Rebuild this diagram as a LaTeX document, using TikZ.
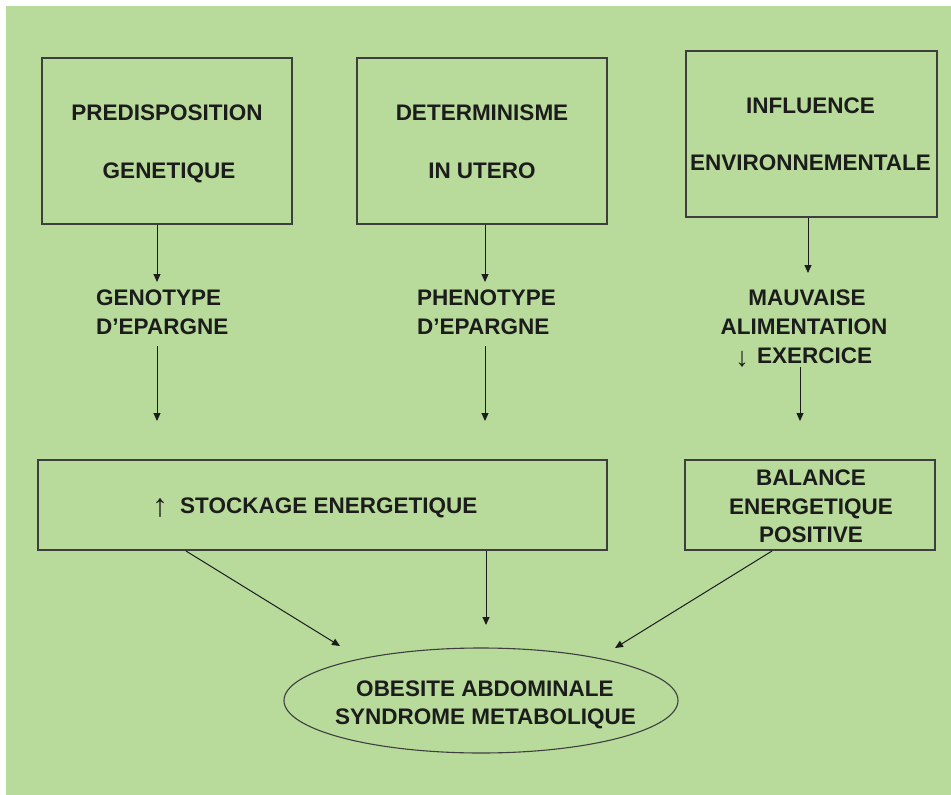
\documentclass[tikz,border=0pt]{standalone}
\usepackage{fontspec}
\setmainfont{Liberation Sans}
\usetikzlibrary{arrows.meta,shapes.geometric}
\definecolor{bg}{RGB}{184,219,155}
\definecolor{ln}{RGB}{62,62,62}
\definecolor{tx}{RGB}{28,28,28}
\begin{document}
\begin{tikzpicture}[x=1pt,y=-1pt,
  box/.style={draw=ln,line width=1.6pt,inner sep=0pt,rectangle},
  oval/.style={draw=ln,line width=1.1pt,inner sep=0pt,ellipse},
  txt/.style={font=\fontsize{22.5}{27}\selectfont\bfseries,text=tx,inner sep=0pt,anchor=base},
  sym/.style={text=tx,inner sep=0pt,anchor=base},
  arr/.style={draw=tx,line width=1pt,-{Triangle[length=8pt,width=7pt]}}]
\useasboundingbox (0,0) rectangle (951,795);
\fill[white] (0,0) rectangle (951,795);
\fill[bg] (6,6) rectangle (951,795);
% boxes
\node[box,minimum width=250pt,minimum height=166pt] (b1) at (167,141) {};
\node[box,minimum width=250pt,minimum height=166pt] (b2) at (482,141) {};
\node[box,minimum width=251pt,minimum height=166pt] (b3) at (811.5,134) {};
\node[box,minimum width=569pt,minimum height=90pt] (b4) at (322.5,505) {};
\node[box,minimum width=250pt,minimum height=90pt] (b5) at (810,505) {};
\node[oval,minimum width=394pt,minimum height=105pt] (e) at (481,700.5) {};
% texts
\node[txt] (t1a) at (167,120) {PREDISPOSITION};
\node[txt] (t1b) at (169,178) {GENETIQUE};
\node[txt] (t2a) at (482,120) {DETERMINISME};
\node[txt] (t2b) at (482,178) {IN UTERO};
\node[txt] (t3a) at (810.5,113) {INFLUENCE};
\node[txt] (t3b) at (810.5,170) {ENVIRONNEMENTALE};
\node[txt,anchor=base west] (g1) at (96,305) {GENOTYPE};
\node[txt,anchor=base west] (g2) at (96,334) {D’EPARGNE};
\node[txt,anchor=base west] (p1) at (417,305) {PHENOTYPE};
\node[txt,anchor=base west] (p2) at (417,334) {D’EPARGNE};
\node[txt] (m1) at (807,305) {MAUVAISE};
\node[txt] (m2) at (804,334) {ALIMENTATION};
\node[sym,font=\fontsize{27}{30}\selectfont] (m3a) at (742,366) {↓};
\node[txt,anchor=base west] (m3) at (757,363) {EXERCICE};
\node[sym,font=\fontsize{32}{36}\selectfont] (s0) at (160,516) {↑};
\node[txt,anchor=base west] (s1) at (180,513) {STOCKAGE ENERGETIQUE};
\node[txt] (n1) at (811,485) {BALANCE};
\node[txt] (n2) at (811,514) {ENERGETIQUE};
\node[txt] (n3) at (811,542) {POSITIVE};
\node[txt] (o1) at (485,696) {OBESITE ABDOMINALE};
\node[txt] (o2) at (485.5,724) {SYNDROME METABOLIQUE};
% arrow end points
\coordinate (a1t) at (157,282);
\coordinate (a1m) at (157,346);
\coordinate (a1b) at (157,421);
\coordinate (a2t) at (485,282);
\coordinate (a2m) at (485,346);
\coordinate (a2b) at (485,421);
\coordinate (a3t) at (808,273);
\coordinate (a3m) at (800,367);
\coordinate (a3b) at (800,421);
\coordinate (l1) at (186,551);
\coordinate (l2) at (340,646);
\coordinate (c1) at (486,550);
\coordinate (c2) at (486,625);
\coordinate (r1) at (772,551);
\coordinate (r2) at (615,648);
% arrows
\draw[arr] (b1.south -| a1t) -- (a1t);
\draw[arr] (a1m) -- (a1b);
\draw[arr] (b2.south -| a2t) -- (a2t);
\draw[arr] (a2m) -- (a2b);
\draw[arr] (b3.south -| a3t) -- (a3t);
\draw[arr] (a3m) -- (a3b);
\draw[arr] (l1) -- (l2);
\draw[arr] (b4.south -| c1) -- (c2);
\draw[arr] (r1) -- (r2);
\end{tikzpicture}
\end{document}
